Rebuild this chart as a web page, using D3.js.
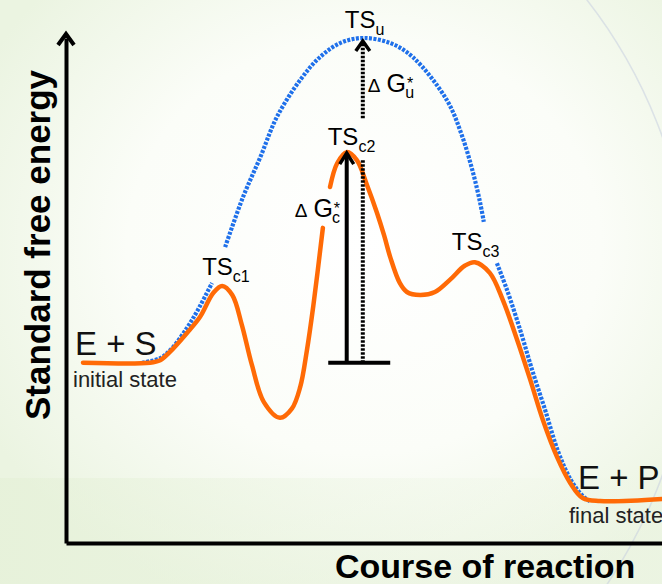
<!DOCTYPE html>
<html>
<head>
<meta charset="utf-8">
<script src="https://cdn.jsdelivr.net/npm/d3@7"></script>
<style>
  body { margin: 0; background: #ffffff; }
  svg { display: block; font-family: "Liberation Sans", Arial, sans-serif; }
</style>
</head>
<body>
<svg id="chart" width="662" height="584"></svg>
<script>
// Reaction coordinate runs 0-100, free energy 0-100 (arbitrary units)

// Catalysed pathway (orange), two pieces: the gap leaves room for the dG_c label
const catX1 = [2.85, 14.1, 15.8, 17.4, 20.3, 22.5, 24.7, 26.2, 27.9, 29.5, 31.2, 33.2, 35.9, 37.9, 39.3, 40.4, 41.5, 43.1];
const catG1 = [35.7, 35.7, 36.2, 37.8, 41.6, 44.8, 49.5, 50.9, 49.1, 43.2, 35.2, 27.9, 24.8, 26.6, 30.9, 38.0, 47.0, 62.4];
const catX2 = [44.3, 45.5, 47.1, 48.8, 50.5, 52.2, 53.4, 54.4, 56.0, 57.2, 59.4, 61.9, 64.4, 66.9, 68.6, 71.1, 73.3, 75.7, 77.9, 80.0, 82.4, 84.6, 86.7, 89.6, 100];
const catG2 = [70.5, 75.2, 77.4, 75.8, 70.9, 65.3, 60.8, 56.6, 51.5, 49.7, 49.1, 49.7, 52.1, 54.9, 55.6, 53.5, 48.1, 40.2, 32.3, 24.4, 17.0, 11.9, 8.9, 8.3, 8.7];

// Uncatalysed pathway (blue dotted), three pieces: gaps at the TS_c1 and TS_c3 labels
const uncX1 = [12.75, 15.8, 17.8, 20.3, 22.1, 24.5];
const uncG1 = [35.7, 36.6, 38.6, 42.6, 46.1, 51.5];
const uncX2 = [26.7, 29.7, 32.6, 35.4, 39.3, 42.6, 46.0, 49.8, 54.4, 58.2, 63.9, 66.4, 68.3, 69.5, 70.1];
const uncG2 = [58.6, 68.5, 76.4, 84.4, 91.7, 96.2, 99.0, 100, 99.0, 96.2, 87.7, 80.8, 73.3, 67.3, 63.6];
const uncX3 = [72.3, 74.0, 76.2, 78.2, 80.4, 82.6, 84.7, 86.7, 87.9];
const uncG3 = [55.4, 50.1, 42.2, 34.3, 26.3, 18.0, 12.5, 9.3, 8.3];

// Transition states
const tsSubs = ["c1", "c2", "c3", "u"];
const tsX = [26.2, 47.1, 68.6, 49.8];
const tsG = [50.9, 77.4, 55.6, 100];

// Ground states
const levelES = 35.7;
const levelEP = 8.3;
const barX = [44.0, 54.4];

const svg = d3.select("#chart");
const W = 662, H = 584;

// Scales
const x = d3.scaleLinear().domain([0, 100]).range([66, 662]);
const y = d3.scaleLinear().domain([0, 100]).range([543, 38]);

// Background wash
const defs = svg.append("defs");
const rg = defs.append("radialGradient").attr("id", "wash")
    .attr("cx", "55%").attr("cy", "42%").attr("r", "65%");
rg.append("stop").attr("offset", "0%").attr("stop-color", "#ffffff");
rg.append("stop").attr("offset", "55%").attr("stop-color", "#fbfdf8");
rg.append("stop").attr("offset", "100%").attr("stop-color", "#ebf4e1");
const lg = defs.append("linearGradient").attr("id", "band")
    .attr("x1", "0").attr("y1", "0").attr("x2", "1").attr("y2", "0");
lg.append("stop").attr("offset", "0%").attr("stop-color", "#e4f0d6").attr("stop-opacity", 0.6);
lg.append("stop").attr("offset", "100%").attr("stop-color", "#eef6e6").attr("stop-opacity", 0.15);

svg.append("rect").attr("width", W).attr("height", H).attr("fill", "url(#wash)");
svg.append("rect").attr("y", 478).attr("width", W).attr("height", H - 478).attr("fill", "url(#band)");
// faint decorative arc
svg.append("circle").attr("cx", 194).attr("cy", 306).attr("r", 498)
    .attr("fill", "none").attr("stroke", "#c3cce0").attr("stroke-width", 1.5).attr("opacity", 0.5);

// Axes (no ticks, just the lines)
svg.append("g").attr("class", "axis")
    .attr("transform", "translate(" + x(0) + ",0)")
    .call(d3.axisLeft(y).tickValues([]).tickSizeOuter(0));
svg.append("g").attr("class", "axis")
    .attr("transform", "translate(0," + y(0) + ")")
    .call(d3.axisBottom(x).tickValues([]).tickSizeOuter(0));
svg.selectAll(".axis .domain").attr("stroke", "#000").attr("stroke-width", 4);
// extend y axis to the arrow tip
svg.append("line").attr("x1", x(0)).attr("x2", x(0)).attr("y1", y(100)).attr("y2", 34)
    .attr("stroke", "#000").attr("stroke-width", 4);

// Chevron arrowhead
function chevron(tx, ty, hw, hh, w) {
    svg.append("path")
        .attr("d", d3.line()([[tx - hw, ty + hh], [tx, ty], [tx + hw, ty + hh]]))
        .attr("fill", "none").attr("stroke", "#000")
        .attr("stroke-width", w).attr("stroke-linejoin", "miter");
}
chevron(x(0), 34, 8, 11, 4);

// Curves
const line = d3.line().x(d => x(d[0])).y(d => y(d[1])).curve(d3.curveCatmullRom.alpha(0.5));
const zip = (a, b) => a.map((v, i) => [v, b[i]]);

[[uncX1, uncG1], [uncX2, uncG2], [uncX3, uncG3]].forEach(s => {
    svg.append("path").attr("d", line(zip(s[0], s[1])))
        .attr("fill", "none").attr("stroke", "#1f70ea")
        .attr("stroke-width", 4.2).attr("stroke-dasharray", "3,1.4");
});
[[catX1, catG1], [catX2, catG2]].forEach(s => {
    svg.append("path").attr("d", line(zip(s[0], s[1])))
        .attr("fill", "none").attr("stroke", "#ff6a06")
        .attr("stroke-width", 4.5).attr("stroke-linecap", "round");
});

// Activation energy arrows
// solid arrow: E+S -> TS_c2
svg.append("line")
    .attr("x1", x(tsX[1])).attr("x2", x(tsX[1]))
    .attr("y1", y(levelES)).attr("y2", y(tsG[1]) + 2)
    .attr("stroke", "#000").attr("stroke-width", 4);
chevron(x(tsX[1]), y(tsG[1]) + 1, 7, 11, 3.5);
// dotted arrow: E+S -> TS_u (broken behind the TS_c2 label)
svg.append("line")
    .attr("x1", x(tsX[3])).attr("x2", x(tsX[3]))
    .attr("y1", y(levelES)).attr("y2", y(tsG[1]) + 8)
    .attr("stroke", "#000").attr("stroke-width", 4).attr("stroke-dasharray", "2.5,1.5");
svg.append("line")
    .attr("x1", x(tsX[3])).attr("x2", x(tsX[3]))
    .attr("y1", y(tsG[1]) - 34).attr("y2", y(tsG[3]) + 4)
    .attr("stroke", "#000").attr("stroke-width", 4).attr("stroke-dasharray", "2.5,1.5");
chevron(x(tsX[3]), y(tsG[3]) + 3, 7, 10, 3.5);
// base bar at E+S level
svg.append("line")
    .attr("x1", x(barX[0])).attr("x2", x(barX[1]))
    .attr("y1", y(levelES)).attr("y2", y(levelES))
    .attr("stroke", "#000").attr("stroke-width", 4);

// Transition state labels
const tsOffset = [[-20, -11], [-19, -7], [-23, -12], [-18, -10]];
tsSubs.forEach((s, i) => {
    const t = svg.append("text")
        .attr("x", x(tsX[i]) + tsOffset[i][0])
        .attr("y", y(tsG[i]) + tsOffset[i][1])
        .attr("font-size", 24).attr("fill", "#000");
    t.append("tspan").text("TS");
    t.append("tspan").attr("font-size", 16).attr("dy", 7).text(s);
});

// Delta G labels (one text element, superscript and subscript stacked)
function deltaG(px, py, sub) {
    const t = svg.append("text").attr("x", px).attr("y", py).attr("fill", "#000");
    t.append("tspan").attr("font-size", 19).text("\u0394");
    t.append("tspan").attr("font-size", 25).attr("dx", 6).text("G");
    t.append("tspan").attr("font-size", 16).attr("dx", 1).attr("dy", -3).text("*");
    t.append("tspan").attr("font-size", 16).attr("dx", -8).attr("dy", 9).text(sub);
}
deltaG(x(tsX[3]) + 5, 92, "u");
deltaG(x(tsX[1]) - 52, 217, "c");

// Ground state labels
svg.append("text").attr("x", 75).attr("y", y(levelES) - 8)
    .attr("font-size", 33).attr("fill", "#111").text("E + S");
svg.append("text").attr("x", 73).attr("y", y(levelES) + 24)
    .attr("font-size", 22).attr("fill", "#222").text("initial state");
svg.append("text").attr("x", 578).attr("y", y(levelEP) - 12)
    .attr("font-size", 33).attr("fill", "#111").text("E + P");
svg.append("text").attr("x", 569).attr("y", y(levelEP) + 22)
    .attr("font-size", 22).attr("fill", "#222").text("final state");

// Axis titles
svg.append("text")
    .attr("transform", "translate(50,245) rotate(-90)")
    .attr("text-anchor", "middle")
    .attr("font-size", 35).attr("font-weight", "bold").attr("fill", "#000")
    .text("Standard free energy");
svg.append("text")
    .attr("x", 335).attr("y", 578)
    .attr("font-size", 34).attr("font-weight", "bold").attr("fill", "#000")
    .text("Course of reaction");
</script>
</body>
</html>
